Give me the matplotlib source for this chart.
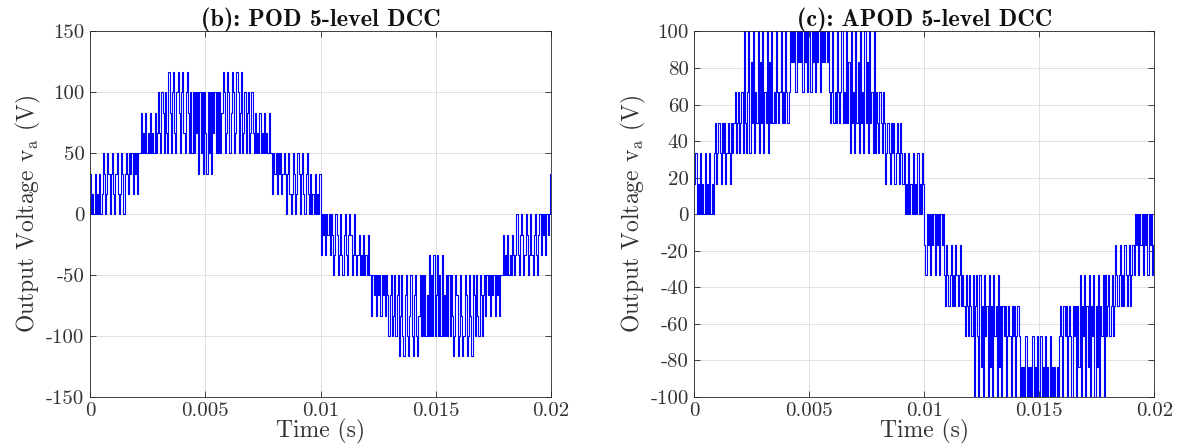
import numpy as np
import matplotlib
matplotlib.use("Agg")
import matplotlib.pyplot as plt

# Phase voltage switching sequences, one character per 50 us sample.
# '0'..'7' -> 0..+7 steps, 'a'..'g' -> -1..-7 steps (one step = 50/3 V).
pod_rows = [
    "20102010201320132023",
    "10231013202321323132",
    "31335343534353435346",
    "43653643753674367536",
    "74367536363646263626",
    "42636264636363576347",
    "63576347635734635634",
    "64353435343534353313",
    "23132312320231013201",
    "32023102310201020102",
    "b0a0b0a0b0acb0acb0bc",
    "a0bca0acb0bcbacbcacb",
    "caccecdcecdcecdcecdf",
    "dcfecfdcgecfgdcfgecf",
    "gdcfgecfcfcfdfbfcfbf",
    "dbfcfbfdfcfcfcegfcdg",
    "fcegfcdgfcegcdfcefcd",
    "fdcecdcecdcecdceccac",
    "bcacbcabcb0bca0acb0a",
    "cb0bca0bca0b0a0b0a02",
]

apod_rows = [
    "12010201020102010231",
    "23213231232132342342",
    "34263246253624362536",
    "24362536343643463436",
    "43465656465656465646",
    "64656465646565656434",
    "63436434634363526342",
    "63526342635263426243",
    "24324312321323123213",
    "21201020102010201021",
    "ab0a0b0a0b0a0b0a0bca",
    "bcbacbcabcbacbcdbcdb",
    "cdbfcbdfbecfbdcfbecf",
    "bdcfbecfcdcfdcdfcdcf",
    "dcdfefefdfefefdfefdf",
    "fdfefdfefdfefefefdcd",
    "fcdcfdcdfcdcfcebfcdb",
    "fcebfcdbfcebfcdbfbdc",
    "bdcbdcabcbacbcabcbac",
    "bab0a0b0a0b0a0b0a0ba",
]

sample_time = 50e-6
level_step = 50.0 / 3.0
level_codes = {"0": 0, "1": 1, "2": 2, "3": 3, "4": 4, "5": 5, "6": 6, "7": 7,
               "a": -1, "b": -2, "c": -3, "d": -4, "e": -5, "f": -6, "g": -7}

titles = ["(b): POD 5-level DCC", "(c): APOD 5-level DCC"]
x_ticks = [0, 0.005, 0.01, 0.015, 0.02]
x_tick_labels = ["0", "0.005", "0.01", "0.015", "0.02"]
pod_y_ticks = [-150, -100, -50, 0, 50, 100, 150]
apod_y_ticks = [-100, -80, -60, -40, -20, 0, 20, 40, 60, 80, 100]

plt.rcParams["font.family"] = "cmr10"
plt.rcParams["mathtext.fontset"] = "cm"
plt.rcParams["axes.unicode_minus"] = False


def decode(rows):
    codes = "".join(rows)
    volts = np.array([level_codes[c] for c in codes], dtype=float) * level_step
    t = np.arange(len(volts) + 1) * sample_time
    v = np.append(volts, volts[-1])
    return t, v


fig = plt.figure(figsize=(11.79, 4.48), dpi=100)
W, H = 1179, 448
ax_boxes = [(90, 31.5, 461, 365.5), (694.3, 31.5, 460, 365.5)]
panels = [(pod_rows, pod_y_ticks), (apod_rows, apod_y_ticks)]
text_color = "#333333"

for (x0, y0, w, h), title, (rows, yt) in zip(ax_boxes, titles, panels):
    ax = fig.add_axes([x0 / W, 1 - (y0 + h) / H, w / W, h / H])
    t, v = decode(rows)
    ax.plot(t, v, drawstyle="steps-post", color=(0, 0, 1), lw=0.8)
    ax.set_xlim(0, 0.02)
    ax.set_ylim(yt[0], yt[-1])
    ax.set_xticks(x_ticks)
    ax.set_xticklabels(x_tick_labels)
    ax.set_yticks(yt)
    ax.set_yticklabels([str(y) for y in yt])
    ax.grid(True, color="#dcdcdc", lw=0.6)
    ax.set_axisbelow(True)
    ax.tick_params(direction="in", length=4, width=0.6, top=True, right=True,
                   labelsize=15, colors="#262626", labelcolor=text_color, pad=4)
    for sp in ax.spines.values():
        sp.set_color("#262626")
        sp.set_linewidth(0.6)
    ax.set_title(title, fontsize=17.5, family="cmb10", pad=4, color="#111111")
    ax.set_xlabel("Time (s)", fontsize=17, labelpad=-1, color=text_color)
    ax.set_ylabel(r"Output Voltage $\mathrm{v}_{\mathrm{a}}$ (V)", fontsize=17,
                  labelpad=2, color=text_color)

fig.savefig("out.png", dpi=100)
